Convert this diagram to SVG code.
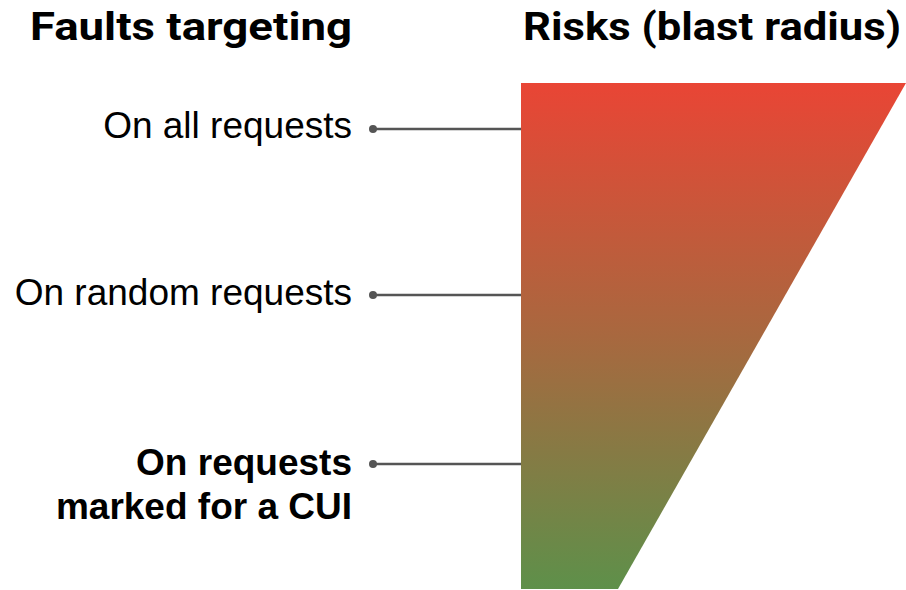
<svg xmlns="http://www.w3.org/2000/svg" width="906" height="590" viewBox="0 0 906 590">
<defs>
<linearGradient id="g" x1="0" y1="83" x2="0" y2="589" gradientUnits="userSpaceOnUse">
<stop offset="0" stop-color="#E94535"/>
<stop offset="0.5" stop-color="#A8683F"/>
<stop offset="1" stop-color="#5E904A"/>
</linearGradient>
<style>
.h{font-family:Roboto,"Liberation Sans",sans-serif;font-weight:700;font-size:39px;fill:#000}
.l{font-family:"Liberation Sans",Arial,sans-serif;font-size:37px;fill:#000;text-anchor:end}
.b{font-weight:700}
.c{stroke:#555;stroke-width:2.5;fill:none}
.d{fill:#555}
</style>
</defs>
<g id="headings">
<text class="h" x="30" y="40" textLength="322" lengthAdjust="spacingAndGlyphs">Faults targeting</text>
<text class="h" x="523" y="40" textLength="378" lengthAdjust="spacingAndGlyphs">Risks (blast radius)</text>
</g>
<g id="risk">
<polygon points="521,83 906,83 618,589 521,589" fill="url(#g)"/>
</g>
<g id="n1"><text class="l" x="352" y="138">On all requests</text></g>
<g id="n2"><text class="l" x="352" y="305">On random requests</text></g>
<g id="n3"><text class="l b" x="352" y="475">On requests</text><text class="l b" x="352" y="519">marked for a CUI</text></g>
<g id="connectors">
<line class="c" x1="373" y1="129" x2="521" y2="129"/><circle class="d" cx="373" cy="129" r="4"/>
<line class="c" x1="373" y1="295" x2="521" y2="295"/><circle class="d" cx="373" cy="295" r="4"/>
<line class="c" x1="373" y1="464" x2="521" y2="464"/><circle class="d" cx="373" cy="464" r="4"/>
</g>
</svg>
